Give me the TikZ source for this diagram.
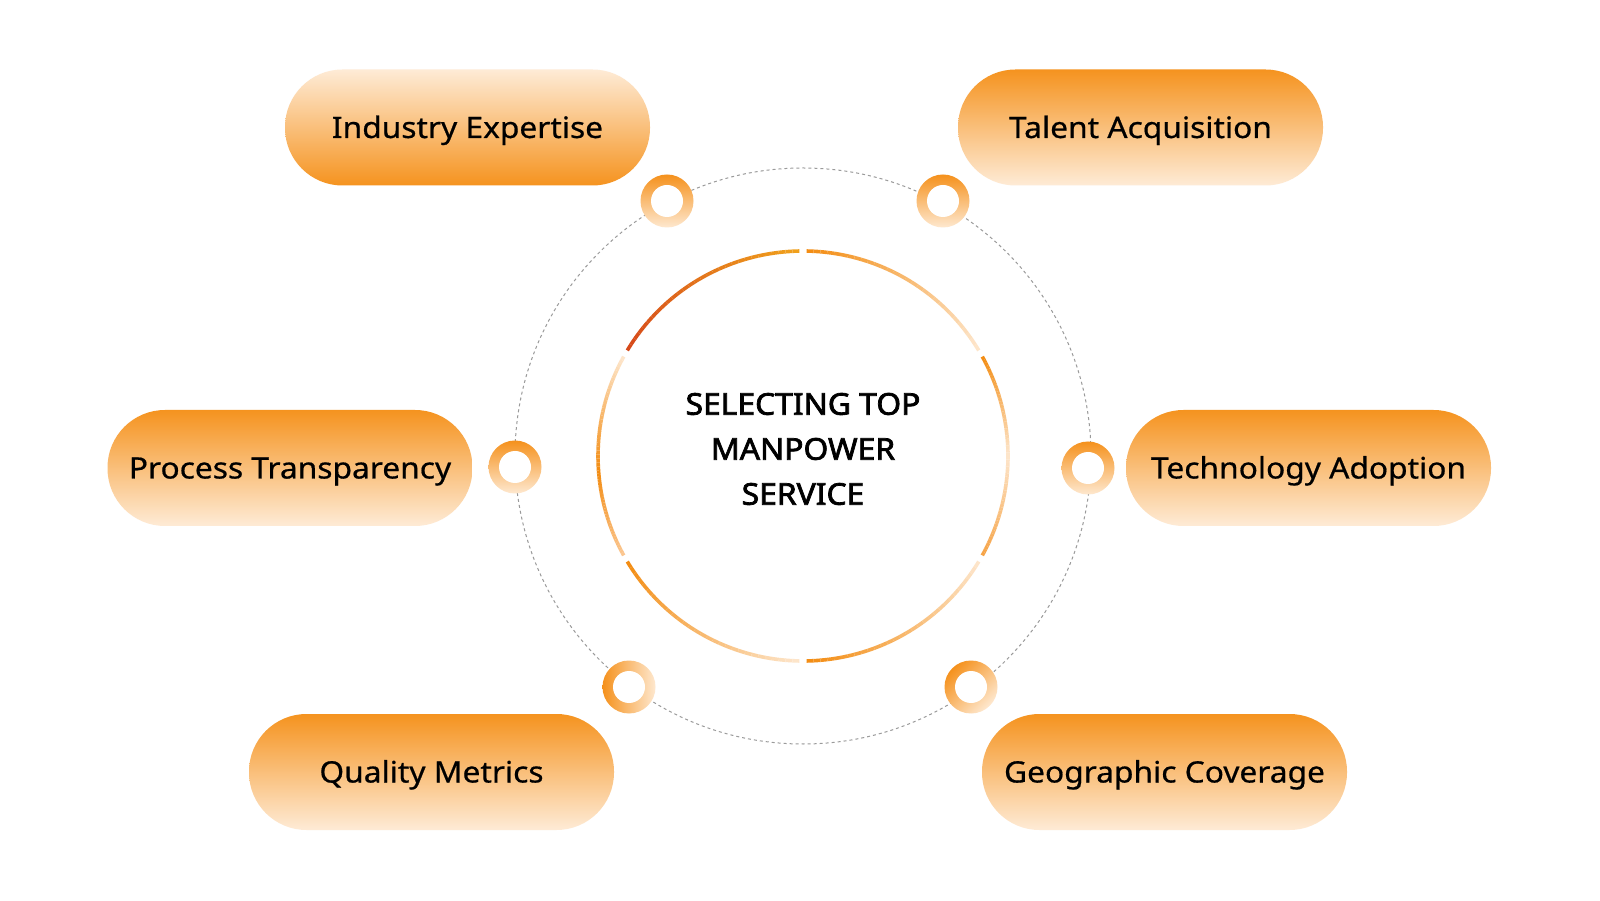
\documentclass[tikz,border=0pt]{standalone}
\usepackage{fontspec}
\setmainfont{Noto Sans}
\newfontfamily\pillfont[FakeStretch=1.075,FakeBold=0.6]{Noto Sans}
\newfontfamily\titlefont[FakeStretch=1.06,FakeBold=2.4]{Noto Sans}
\definecolor{pdark}{HTML}{F5931F}
\definecolor{plight}{HTML}{FEEBD6}
\definecolor{rdark}{HTML}{F5911C}
\definecolor{rlight}{HTML}{FEE8CF}
\definecolor{aor}{HTML}{F38D14}
\definecolor{ayel}{HTML}{F0A01C}
\definecolor{adark}{HTML}{D6491A}
\definecolor{apale}{HTML}{FDE5CA}
\definecolor{apeach}{HTML}{FBC690}
\definecolor{aor2}{HTML}{F6A448}
\definecolor{dashgray}{HTML}{9A9A9A}
\newcommand\gradarc[4]{%
  \foreach \i in {0,...,29}{%
    \pgfmathsetmacro\aa{#1+(#2-#1)*\i/30}%
    \pgfmathsetmacro\bb{#1+(#2-#1)*(\i+1)/30}%
    \pgfmathtruncatemacro\pp{100*\i/29}%
    \draw[line width=3.6pt, color=#4!\pp!#3] ([shift={(\aa:205)}]c) arc[start angle=\aa, end angle=\bb, radius=205];
  }%
}
\begin{document}
\begin{tikzpicture}[x=1pt,y=1pt,
  pill/.style={rounded corners=57.5pt, minimum width=365pt, minimum height=116pt, inner sep=0pt,
    text height=21pt, text depth=0pt,
    font=\pillfont\fontsize{29.5}{34}\selectfont, text=black},
  pilldown/.style={pill, top color=pdark, bottom color=plight},
  pillup/.style={pill, top color=plight, bottom color=pdark},
  ring/.style={circle, minimum size=53pt, inner sep=0pt},
]
\useasboundingbox (0,0) rectangle (1600,900);
\fill[white] (0,0) rectangle (1600,900);
\coordinate (c) at (803,444);

% dashed orbit
\draw[dashgray, line width=1pt, dash pattern=on 3pt off 3pt] (c) circle (288);

% central segmented circle
\gradarc{31}{89}{apale}{aor}
\gradarc{91}{149}{ayel}{adark}
\gradarc{151}{184}{apale}{aor}
\gradarc{184}{209}{aor}{apeach}
\gradarc{211}{269}{aor}{apale}
\gradarc{271}{329}{aor}{apale}
\gradarc{331}{360}{aor2}{apale}
\gradarc{360}{389}{apale}{aor}

\node[align=center, font=\titlefont\fontsize{30}{45}\selectfont, text=black] (title) at (803,451)
  {SELECTING TOP\\MANPOWER\\SERVICE};

% rings
\node[ring, top color=rdark, bottom color=rlight] (r1) at (667,699) {};
\node[ring, top color=rdark, bottom color=rlight] (r2) at (943,699) {};
\node[ring, top color=rdark, bottom color=rlight] (r3) at (515,433) {};
\node[ring, top color=rdark, bottom color=rlight] (r4) at (1088,432) {};
\node[ring, left color=rdark, right color=rlight] (r5) at (629,213) {};
\node[ring, top color=rdark, bottom color=rlight, shading angle=45] (r6) at (971,213) {};
\foreach \r in {r1,r2,r3,r4,r5,r6}{\fill[white] (\r.center) circle (16);}

% pills
\node[pillup] (p1) at (467.5,772.5) {Industry Expertise};
\node[pilldown] (p2) at (1140.5,772.5) {Talent Acquisition};
\node[pilldown] (p3) at (290,432) {Process Transparency};
\node[pilldown] (p4) at (1308.5,432) {Technology Adoption};
\node[pilldown] (p5) at (431.5,128) {Quality Metrics};
\node[pilldown] (p6) at (1164.5,128) {Geographic Coverage};
\end{tikzpicture}
\end{document}
